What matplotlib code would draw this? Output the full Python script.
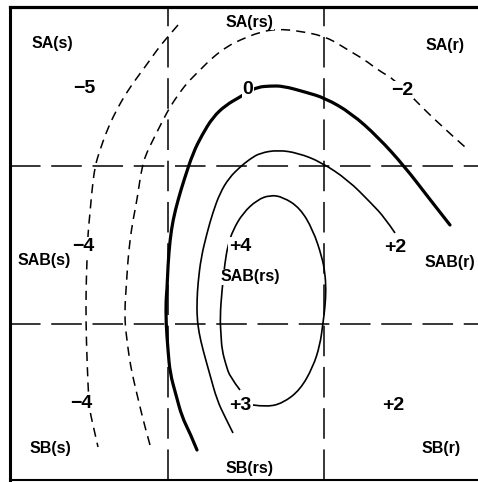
import matplotlib.pyplot as plt
from matplotlib.path import Path
from matplotlib.patches import PathPatch

plt.rcParams['font.family'] = ['Liberation Sans', 'DejaVu Sans']

# region borders, in picture pixels
col_bounds = [168, 324]
row_bounds = [166, 324]

# contour lines (x, y in pixels, y downwards)
outer_x = [178, 165, 157, 145, 133, 122, 113, 106, 100, 95, 92, 90, 88, 87, 86, 86, 87, 89, 93, 98]
outer_y = [25, 40, 50, 67, 83, 100, 117, 133, 150, 166, 190, 213, 233, 260, 290, 324, 360, 407, 425, 447]

second_x = [150, 145, 140, 136, 132, 129, 127, 125, 125, 126, 127, 128, 130, 133, 137, 142, 147, 153,
            163, 170, 178, 187, 200, 213, 228, 240, 260, 277, 300, 327, 348, 365, 378, 395, 415, 438, 465]
second_y = [445, 427, 407, 390, 373, 356, 340, 324, 305, 290, 275, 260, 240, 220, 200, 166, 152, 140,
            120, 107, 95, 83, 70, 57, 46, 40, 32, 29, 31, 37, 50, 60, 70, 80, 100, 123, 147]

zero_x = [197, 190, 182, 176, 170, 168, 166, 166, 167, 168, 170, 173, 178, 184, 193, 202, 213, 226,
          240, 248, 258, 270, 283, 305, 325, 351, 378, 405, 428, 450]
zero_y = [450, 433, 417, 395, 373, 350, 323, 300, 290, 265, 240, 220, 200, 180, 153, 135, 117, 105,
          97, 92, 87, 86, 86, 92, 98, 113, 137, 167, 197, 225]

mid_x = [233, 225, 217, 210, 203, 199, 197, 197, 198, 201, 207, 213, 220, 229, 240, 250, 260, 278,
         298, 321, 348, 371, 385, 395]
mid_y = [433, 417, 400, 375, 350, 333, 317, 300, 283, 258, 233, 212, 193, 178, 167, 159, 153, 150,
         153, 162, 180, 203, 218, 233]

inner_x = [253, 267, 283, 300, 313, 320, 323, 325, 326, 325, 322, 313, 300, 283, 270, 257, 243, 233,
           228, 225, 222, 220, 221, 222, 226, 230, 240]
inner_y = [405, 407, 403, 390, 367, 345, 323, 307, 290, 273, 257, 230, 208, 197, 195, 200, 213, 230,
           245, 262, 290, 317, 335, 350, 365, 377, 390]

region_names = ['SA(s)', 'SA(rs)', 'SA(r)', 'SAB(s)', 'SAB(rs)', 'SAB(r)', 'SB(s)', 'SB(rs)', 'SB(r)']
region_pos = [(52, 43), (249, 22), (445, 45), (44, 260), (250, 277), (450, 262), (50, 448), (250, 469), (441, 449)]

values = ['\u22125', '0', '\u22122', '\u22124', '+4', '+2', '\u22124', '+3', '+2']
value_pos = [(84, 88), (248, 89), (402, 90), (83, 246), (240, 246), (395, 247), (81, 404), (240, 405), (393, 406)]


def smooth_path(xs, ys):
    # quadratic bezier through the read points (points act as control points)
    pts = list(zip(xs, ys))
    verts = [pts[0]]
    codes = [Path.MOVETO]
    for i in range(1, len(pts) - 2):
        nxt = ((pts[i][0] + pts[i + 1][0]) / 2, (pts[i][1] + pts[i + 1][1]) / 2)
        verts += [pts[i], nxt]
        codes += [Path.CURVE3, Path.CURVE3]
    verts += [pts[-2], pts[-1]]
    codes += [Path.CURVE3, Path.CURVE3]
    return Path(verts, codes)


fig = plt.figure(figsize=(4.78, 4.82), dpi=100)
ax = fig.add_axes([10 / 478, 2 / 482, 468 / 478, 473 / 482])
ax.set_xlim(10, 478)
ax.set_ylim(480, 7)
ax.set_xticks([])
ax.set_yticks([])
ax.spines['right'].set_visible(False)
ax.spines['top'].set_linewidth(2.3)
ax.spines['left'].set_linewidth(2.2)
ax.spines['bottom'].set_linewidth(1.5)

for c in col_bounds:
    ax.axvline(c, color='black', lw=1.1, dashes=(20, 7))
for r in row_bounds:
    ax.axhline(r, color='black', lw=1.1, dashes=(20, 7))

ax.add_patch(PathPatch(smooth_path(outer_x, outer_y), fill=False, ec='black', lw=1.1, ls=(0, (6, 4))))
ax.add_patch(PathPatch(smooth_path(second_x, second_y), fill=False, ec='black', lw=1.1, ls=(0, (6, 4))))
ax.add_patch(PathPatch(smooth_path(zero_x, zero_y), fill=False, ec='black', lw=2.3, capstyle='round'))
ax.add_patch(PathPatch(smooth_path(mid_x, mid_y), fill=False, ec='black', lw=1.2))
ax.add_patch(PathPatch(smooth_path(inner_x, inner_y), fill=False, ec='black', lw=1.2))

for name, (x, y) in zip(region_names, region_pos):
    ax.text(x, y, name, ha='center', va='center', fontsize=11.5, fontweight='bold',
            bbox=dict(facecolor='white', edgecolor='none', pad=0.5), zorder=5)

for v, (x, y) in zip(values, value_pos):
    ax.text(x, y, v, ha='center', va='center', fontsize=14, fontweight='bold',
            bbox=dict(facecolor='white', edgecolor='none', pad=0.5), zorder=5)

fig.savefig('out.png', dpi=100)
